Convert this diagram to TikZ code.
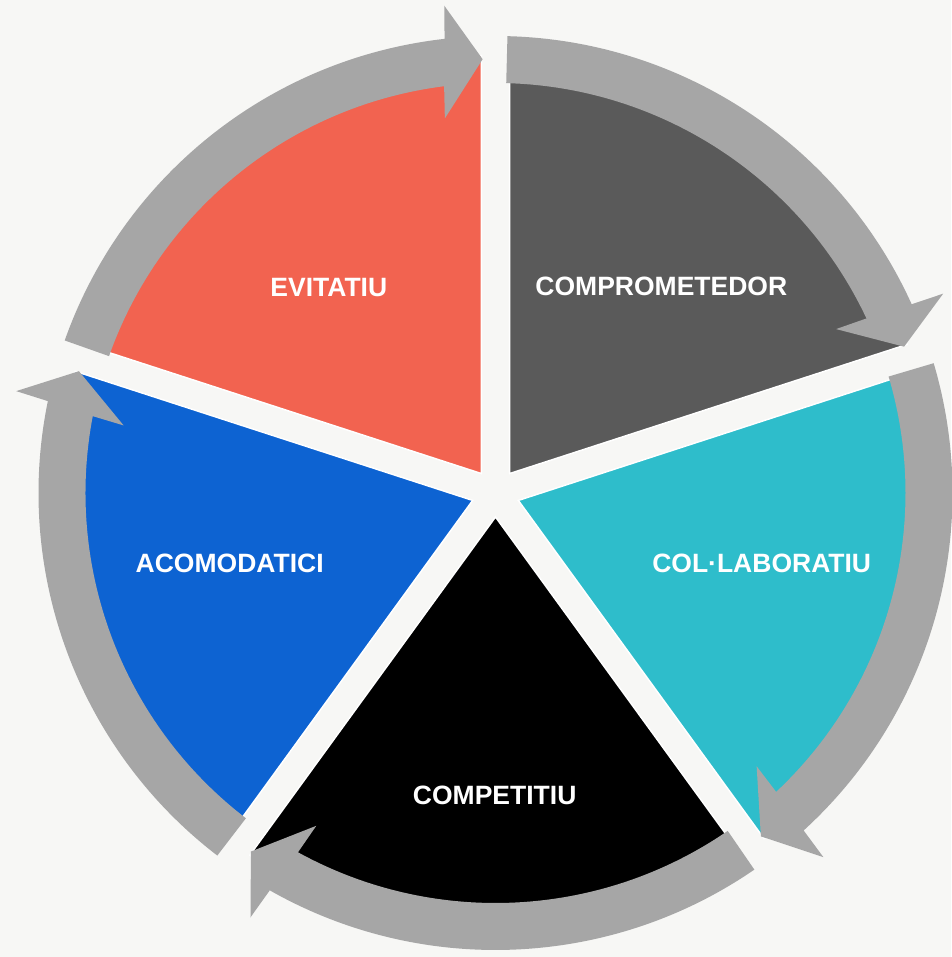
\documentclass[tikz,border=0pt]{standalone}
\usepackage{fontspec}
\setmainfont{Liberation Sans}
\usepackage{tikz}
\definecolor{pagebg}{HTML}{F7F7F5}
\definecolor{evitred}{HTML}{F26350}
\definecolor{compdark}{HTML}{5A5A5A}
\definecolor{colteal}{HTML}{2EBDCB}
\definecolor{acomblue}{HTML}{0D63D2}
\definecolor{arrowgray}{HTML}{A6A6A6}
\newcommand{\cyclearrowcolor}[0]{arrowgray}
\newcommand{\segoutline}[0]{white}

\begin{document}
\begin{tikzpicture}[x=1pt, y=1pt,
    segtext/.style={text=white, font=\fontsize{26.5}{30}\selectfont\bfseries, inner sep=0pt}]
    \fill[pagebg, use as bounding box] (-495.5,-464) rectangle (455.5,493);
    % the five segments, each pushed out along its middle
    \foreach \first/\segcolor in {90/evitred, 18/compdark, -54/colteal, -126/black, 162/acomblue} {
        \filldraw[fill=\segcolor, draw=\segoutline, line width=1.5pt, shift={(\first+36:24)}]
            (0,0) -- (\first:418) arc[start angle=\first, end angle=\first+72, radius=418] -- cycle;
    }
    % curved arrows round the cycle
    \foreach \k in {0,...,4} {
        \fill[\cyclearrowcolor, rotate=-72*\k]
            (160.5:457) arc[start angle=160.5, end angle=96.4, radius=457]
            -- (96.0:490) -- (91.7:434) -- (97.7:378) -- (97.2:410)
            arc[start angle=97.2, end angle=160.5, radius=410] -- cycle;
    }
    \node[segtext] (evitatiu) at (-166.7,205.5) {EVITATIU};
    \node[segtext] (comprometedor) at (165.8,206.3) {COMPROMETEDOR};
    \node[segtext] (collaboratiu) at (266.2,-70.7) {COL·LABORATIU};
    \node[segtext] (acomodatici) at (-265.8,-70.7) {ACOMODATICI};
    \node[segtext] (competitiu) at (-0.8,-302.5) {COMPETITIU};
\end{tikzpicture}
\end{document}
